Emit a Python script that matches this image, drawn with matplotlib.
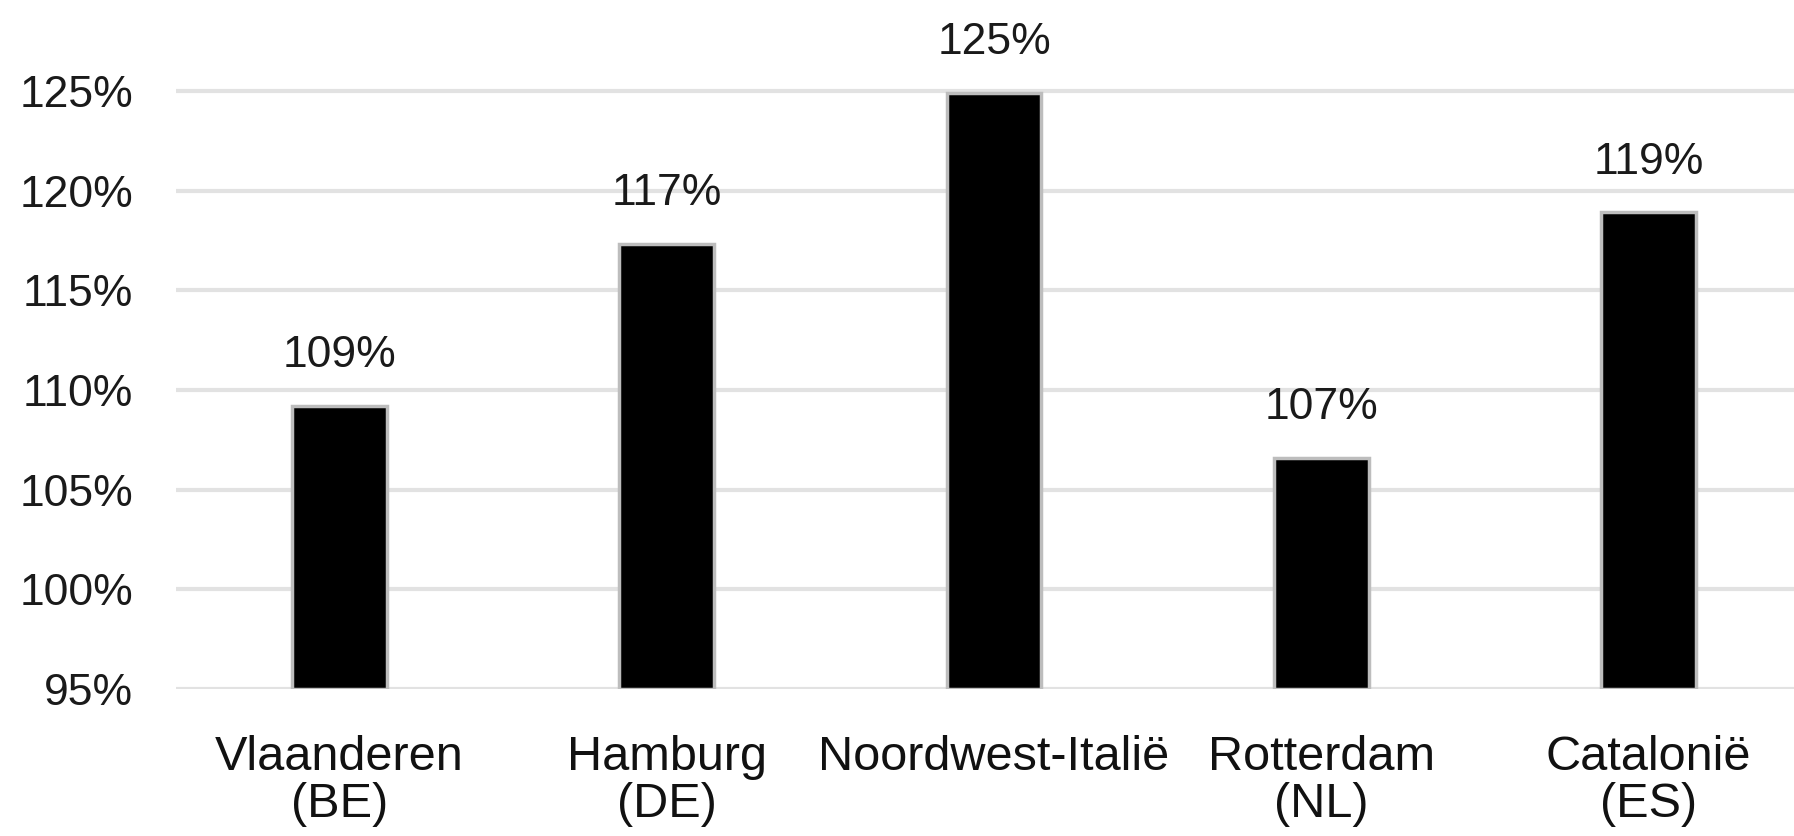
import matplotlib.pyplot as plt
import numpy as np

regions = ['Vlaanderen\n(BE)', 'Hamburg\n(DE)', 'Noordwest-Italië', 'Rotterdam\n(NL)', 'Catalonië\n(ES)']
values = [109.2, 117.3, 124.9, 106.6, 118.9]
yticks = [95, 100, 105, 110, 115, 120, 125]

plt.rcParams['font.family'] = ['Liberation Sans', 'DejaVu Sans']

fig = plt.figure(figsize=(17.94, 8.36), dpi=100)
# axes runs a bit past the right edge, like the cropped original
ax = fig.add_axes([176 / 1794, 147 / 836, 1636 / 1794, 658 / 836])

x = np.arange(len(regions))
ax.bar(x, [v - 95 for v in values], bottom=95, width=0.29, color='black',
       edgecolor='#bdbdbd', linewidth=2.5, zorder=3)

for xi, v in zip(x, values):
    ax.annotate(f'{round(v)}%', (xi, v), xytext=(0, 28), textcoords='offset points',
                ha='center', va='baseline', fontsize=32, color='#1a1a1a')

ax.set_xlim(-0.5, len(regions) - 0.5)
ax.set_ylim(95, 128)
ax.set_yticks(yticks)
ax.set_yticklabels([f'{t}%' for t in yticks])
ax.set_xticks(x)
ax.set_xticklabels(regions, linespacing=1.05)

ax.grid(axis='y', color='#e2e2e2', linewidth=3, zorder=0)
ax.set_axisbelow(True)
for s in ax.spines.values():
    s.set_visible(False)

ax.tick_params(axis='y', length=0, pad=31, labelsize=32, labelcolor='#1a1a1a')
ax.tick_params(axis='x', length=0, pad=33, labelsize=35, labelcolor='#111111')

plt.savefig('out.png', dpi=100)
